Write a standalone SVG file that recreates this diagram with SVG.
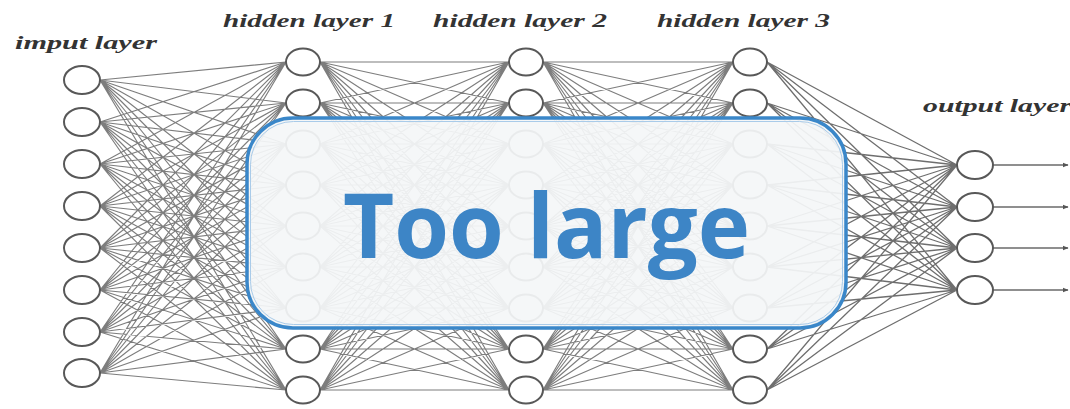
<svg xmlns="http://www.w3.org/2000/svg" width="1070" height="409" viewBox="0 0 1070 409">
<defs>
<style>
.lbl{font-family:"Liberation Serif","DejaVu Serif",serif;font-weight:bold;font-style:italic;fill:#333;}
.n ellipse{fill:#fff;stroke:#585858;stroke-width:2;}
.w{fill:none;stroke:#666;stroke-width:1.15;stroke-opacity:0.85;}
.ar{fill:none;stroke:#6a6a6a;stroke-width:1.6;marker-end:url(#ah);}
</style>
<marker id="ah" viewBox="0 0 10 10" refX="9" refY="5" markerWidth="6" markerHeight="6" orient="auto" markerUnits="userSpaceOnUse">
<path d="M0 1L10 5L0 9z" fill="#555"/>
</marker>
</defs>
<rect width="1070" height="409" fill="#fff"/>
<g id="connectors">
<path class="w" d="M100 80L286 62M100 80L286 103M100 80L286 144M100 80L286 185M100 80L286 226M100 80L286 267M100 80L286 308M100 80L286 349M100 80L286 390
M100 122L286 62M100 122L286 103M100 122L286 144M100 122L286 185M100 122L286 226M100 122L286 267M100 122L286 308M100 122L286 349M100 122L286 390
M100 164L286 62M100 164L286 103M100 164L286 144M100 164L286 185M100 164L286 226M100 164L286 267M100 164L286 308M100 164L286 349M100 164L286 390
M100 206L286 62M100 206L286 103M100 206L286 144M100 206L286 185M100 206L286 226M100 206L286 267M100 206L286 308M100 206L286 349M100 206L286 390
M100 248L286 62M100 248L286 103M100 248L286 144M100 248L286 185M100 248L286 226M100 248L286 267M100 248L286 308M100 248L286 349M100 248L286 390
M100 290L286 62M100 290L286 103M100 290L286 144M100 290L286 185M100 290L286 226M100 290L286 267M100 290L286 308M100 290L286 349M100 290L286 390
M100 332L286 62M100 332L286 103M100 332L286 144M100 332L286 185M100 332L286 226M100 332L286 267M100 332L286 308M100 332L286 349M100 332L286 390
M100 373L286 62M100 373L286 103M100 373L286 144M100 373L286 185M100 373L286 226M100 373L286 267M100 373L286 308M100 373L286 349M100 373L286 390"/>
<path class="w" d="M320 62L509 62M320 62L509 103M320 62L509 144M320 62L509 185M320 62L509 226M320 62L509 267M320 62L509 308M320 62L509 349M320 62L509 390
M320 103L509 62M320 103L509 103M320 103L509 144M320 103L509 185M320 103L509 226M320 103L509 267M320 103L509 308M320 103L509 349M320 103L509 390
M320 144L509 62M320 144L509 103M320 144L509 144M320 144L509 185M320 144L509 226M320 144L509 267M320 144L509 308M320 144L509 349M320 144L509 390
M320 185L509 62M320 185L509 103M320 185L509 144M320 185L509 185M320 185L509 226M320 185L509 267M320 185L509 308M320 185L509 349M320 185L509 390
M320 226L509 62M320 226L509 103M320 226L509 144M320 226L509 185M320 226L509 226M320 226L509 267M320 226L509 308M320 226L509 349M320 226L509 390
M320 267L509 62M320 267L509 103M320 267L509 144M320 267L509 185M320 267L509 226M320 267L509 267M320 267L509 308M320 267L509 349M320 267L509 390
M320 308L509 62M320 308L509 103M320 308L509 144M320 308L509 185M320 308L509 226M320 308L509 267M320 308L509 308M320 308L509 349M320 308L509 390
M320 349L509 62M320 349L509 103M320 349L509 144M320 349L509 185M320 349L509 226M320 349L509 267M320 349L509 308M320 349L509 349M320 349L509 390
M320 390L509 62M320 390L509 103M320 390L509 144M320 390L509 185M320 390L509 226M320 390L509 267M320 390L509 308M320 390L509 349M320 390L509 390"/>
<path class="w" d="M543 62L733 62M543 62L733 103M543 62L733 144M543 62L733 185M543 62L733 226M543 62L733 267M543 62L733 308M543 62L733 349M543 62L733 390
M543 103L733 62M543 103L733 103M543 103L733 144M543 103L733 185M543 103L733 226M543 103L733 267M543 103L733 308M543 103L733 349M543 103L733 390
M543 144L733 62M543 144L733 103M543 144L733 144M543 144L733 185M543 144L733 226M543 144L733 267M543 144L733 308M543 144L733 349M543 144L733 390
M543 185L733 62M543 185L733 103M543 185L733 144M543 185L733 185M543 185L733 226M543 185L733 267M543 185L733 308M543 185L733 349M543 185L733 390
M543 226L733 62M543 226L733 103M543 226L733 144M543 226L733 185M543 226L733 226M543 226L733 267M543 226L733 308M543 226L733 349M543 226L733 390
M543 267L733 62M543 267L733 103M543 267L733 144M543 267L733 185M543 267L733 226M543 267L733 267M543 267L733 308M543 267L733 349M543 267L733 390
M543 308L733 62M543 308L733 103M543 308L733 144M543 308L733 185M543 308L733 226M543 308L733 267M543 308L733 308M543 308L733 349M543 308L733 390
M543 349L733 62M543 349L733 103M543 349L733 144M543 349L733 185M543 349L733 226M543 349L733 267M543 349L733 308M543 349L733 349M543 349L733 390
M543 390L733 62M543 390L733 103M543 390L733 144M543 390L733 185M543 390L733 226M543 390L733 267M543 390L733 308M543 390L733 349M543 390L733 390"/>
<path class="w" style="stroke:#555;stroke-width:1.3" d="M767 62L957 165M767 62L957 207M767 62L957 248M767 62L957 290
M767 103L957 165M767 103L957 207M767 103L957 248M767 103L957 290
M767 144L957 165M767 144L957 207M767 144L957 248M767 144L957 290
M767 185L957 165M767 185L957 207M767 185L957 248M767 185L957 290
M767 226L957 165M767 226L957 207M767 226L957 248M767 226L957 290
M767 267L957 165M767 267L957 207M767 267L957 248M767 267L957 290
M767 308L957 165M767 308L957 207M767 308L957 248M767 308L957 290
M767 349L957 165M767 349L957 207M767 349L957 248M767 349L957 290
M767 390L957 165M767 390L957 207M767 390L957 248M767 390L957 290"/>
<path class="ar" d="M993 165L1068 165"/>
<path class="ar" d="M993 207L1068 207"/>
<path class="ar" d="M993 248L1068 248"/>
<path class="ar" d="M993 290L1068 290"/>
</g>
<g id="in1" class="n"><ellipse cx="82" cy="80" rx="18" ry="14"/></g>
<g id="in2" class="n"><ellipse cx="82" cy="122" rx="18" ry="14"/></g>
<g id="in3" class="n"><ellipse cx="82" cy="164" rx="18" ry="14"/></g>
<g id="in4" class="n"><ellipse cx="82" cy="206" rx="18" ry="14"/></g>
<g id="in5" class="n"><ellipse cx="82" cy="248" rx="18" ry="14"/></g>
<g id="in6" class="n"><ellipse cx="82" cy="290" rx="18" ry="14"/></g>
<g id="in7" class="n"><ellipse cx="82" cy="332" rx="18" ry="14"/></g>
<g id="in8" class="n"><ellipse cx="82" cy="373" rx="18" ry="14"/></g>
<g id="h1n1" class="n"><ellipse cx="303" cy="62" rx="17" ry="13.5"/></g>
<g id="h1n2" class="n"><ellipse cx="303" cy="103" rx="17" ry="13.5"/></g>
<g id="h1n3" class="n"><ellipse cx="303" cy="144" rx="17" ry="13.5"/></g>
<g id="h1n4" class="n"><ellipse cx="303" cy="185" rx="17" ry="13.5"/></g>
<g id="h1n5" class="n"><ellipse cx="303" cy="226" rx="17" ry="13.5"/></g>
<g id="h1n6" class="n"><ellipse cx="303" cy="267" rx="17" ry="13.5"/></g>
<g id="h1n7" class="n"><ellipse cx="303" cy="308" rx="17" ry="13.5"/></g>
<g id="h1n8" class="n"><ellipse cx="303" cy="349" rx="17" ry="13.5"/></g>
<g id="h1n9" class="n"><ellipse cx="303" cy="390" rx="17" ry="13.5"/></g>
<g id="h2n1" class="n"><ellipse cx="526" cy="62" rx="17" ry="13.5"/></g>
<g id="h2n2" class="n"><ellipse cx="526" cy="103" rx="17" ry="13.5"/></g>
<g id="h2n3" class="n"><ellipse cx="526" cy="144" rx="17" ry="13.5"/></g>
<g id="h2n4" class="n"><ellipse cx="526" cy="185" rx="17" ry="13.5"/></g>
<g id="h2n5" class="n"><ellipse cx="526" cy="226" rx="17" ry="13.5"/></g>
<g id="h2n6" class="n"><ellipse cx="526" cy="267" rx="17" ry="13.5"/></g>
<g id="h2n7" class="n"><ellipse cx="526" cy="308" rx="17" ry="13.5"/></g>
<g id="h2n8" class="n"><ellipse cx="526" cy="349" rx="17" ry="13.5"/></g>
<g id="h2n9" class="n"><ellipse cx="526" cy="390" rx="17" ry="13.5"/></g>
<g id="h3n1" class="n"><ellipse cx="750" cy="62" rx="17" ry="13.5"/></g>
<g id="h3n2" class="n"><ellipse cx="750" cy="103" rx="17" ry="13.5"/></g>
<g id="h3n3" class="n"><ellipse cx="750" cy="144" rx="17" ry="13.5"/></g>
<g id="h3n4" class="n"><ellipse cx="750" cy="185" rx="17" ry="13.5"/></g>
<g id="h3n5" class="n"><ellipse cx="750" cy="226" rx="17" ry="13.5"/></g>
<g id="h3n6" class="n"><ellipse cx="750" cy="267" rx="17" ry="13.5"/></g>
<g id="h3n7" class="n"><ellipse cx="750" cy="308" rx="17" ry="13.5"/></g>
<g id="h3n8" class="n"><ellipse cx="750" cy="349" rx="17" ry="13.5"/></g>
<g id="h3n9" class="n"><ellipse cx="750" cy="390" rx="17" ry="13.5"/></g>
<g id="out1" class="n"><ellipse cx="975" cy="165" rx="18" ry="14"/></g>
<g id="out2" class="n"><ellipse cx="975" cy="207" rx="18" ry="14"/></g>
<g id="out3" class="n"><ellipse cx="975" cy="248" rx="18" ry="14"/></g>
<g id="out4" class="n"><ellipse cx="975" cy="290" rx="18" ry="14"/></g>
<g id="labels">
<text class="lbl" x="15" y="49" font-size="18" textLength="142" lengthAdjust="spacingAndGlyphs">imput layer</text>
<text class="lbl" x="223" y="27" font-size="19" textLength="172" lengthAdjust="spacingAndGlyphs">hidden layer 1</text>
<text class="lbl" x="433" y="27" font-size="19" textLength="174" lengthAdjust="spacingAndGlyphs">hidden layer 2</text>
<text class="lbl" x="657" y="27" font-size="19" textLength="173" lengthAdjust="spacingAndGlyphs">hidden layer 3</text>
<text class="lbl" x="923" y="112" font-size="19" textLength="148" lengthAdjust="spacingAndGlyphs">output layer</text>
</g>
<g id="overlay">
<rect x="247" y="118" width="599" height="210" rx="46" fill="#f4f6f8" fill-opacity="0.93" stroke="#3a87c9" stroke-width="3.5"/>
<rect x="250.5" y="121.5" width="592" height="203" rx="43" fill="none" stroke="#a9cbe9" stroke-width="1"/>
<text x="343" y="258" font-family="'Open Sans','Liberation Sans',sans-serif" font-weight="bold" font-size="90" fill="#3d85c6" textLength="407" lengthAdjust="spacingAndGlyphs">Too large</text>
</g>
</svg>
